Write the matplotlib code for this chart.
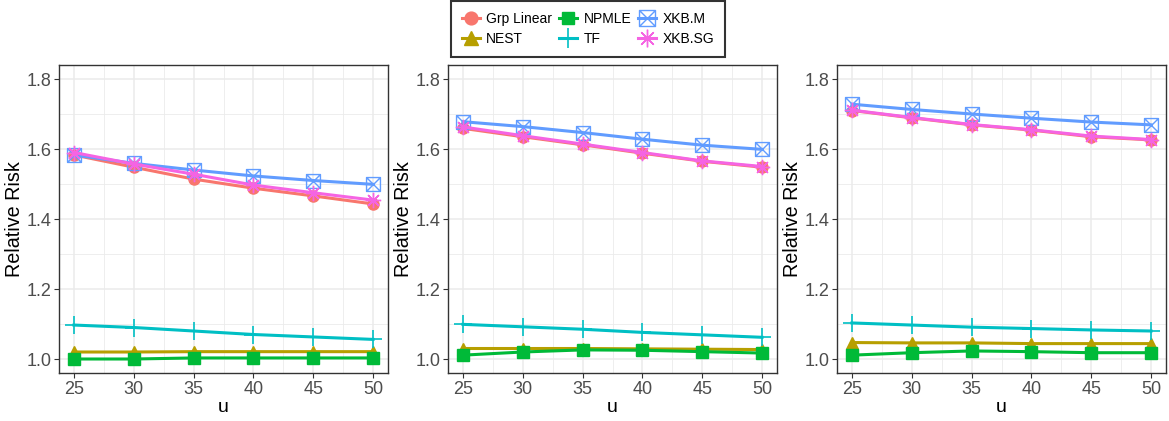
import numpy as np
import matplotlib.pyplot as plt
from matplotlib.path import Path
from matplotlib.ticker import MultipleLocator

plt.rcParams['font.family'] = ['Liberation Sans', 'DejaVu Sans']

u = [25, 30, 35, 40, 45, 50]
methods = ['Grp Linear', 'NEST', 'NPMLE', 'TF', 'XKB.M', 'XKB.SG']
colors = ['#F8766D', '#B79F00', '#00BA38', '#00BFC4', '#619CFF', '#F564E3']

# one dict per panel: method -> relative risk at each u
panel1 = {
    'Grp Linear': [1.583, 1.548, 1.514, 1.488, 1.466, 1.443],
    'NEST':       [1.020, 1.020, 1.021, 1.021, 1.021, 1.021],
    'NPMLE':      [1.000, 1.000, 1.003, 1.003, 1.003, 1.003],
    'TF':         [1.097, 1.090, 1.080, 1.070, 1.063, 1.056],
    'XKB.M':      [1.583, 1.559, 1.540, 1.523, 1.510, 1.499],
    'XKB.SG':     [1.590, 1.557, 1.528, 1.497, 1.475, 1.454],
}
panel2 = {
    'Grp Linear': [1.659, 1.635, 1.612, 1.588, 1.565, 1.548],
    'NEST':       [1.030, 1.030, 1.030, 1.029, 1.028, 1.027],
    'NPMLE':      [1.011, 1.020, 1.026, 1.025, 1.021, 1.017],
    'TF':         [1.099, 1.092, 1.085, 1.076, 1.069, 1.062],
    'XKB.M':      [1.678, 1.664, 1.647, 1.628, 1.611, 1.599],
    'XKB.SG':     [1.663, 1.638, 1.614, 1.590, 1.566, 1.550],
}
panel3 = {
    'Grp Linear': [1.710, 1.689, 1.669, 1.654, 1.635, 1.626],
    'NEST':       [1.047, 1.046, 1.046, 1.044, 1.044, 1.044],
    'NPMLE':      [1.011, 1.018, 1.023, 1.021, 1.018, 1.018],
    'TF':         [1.103, 1.097, 1.091, 1.087, 1.083, 1.080],
    'XKB.M':      [1.728, 1.713, 1.700, 1.688, 1.677, 1.669],
    'XKB.SG':     [1.711, 1.690, 1.670, 1.655, 1.637, 1.627],
}
panels = [panel1, panel2, panel3]

# boxed cross marker (ggplot shape 7)
boxx = Path(
    [(-1, -1), (1, -1), (1, 1), (-1, 1), (-1, -1), (-1, -1), (1, 1), (-1, 1), (1, -1)],
    [Path.MOVETO, Path.LINETO, Path.LINETO, Path.LINETO, Path.CLOSEPOLY,
     Path.MOVETO, Path.LINETO, Path.MOVETO, Path.LINETO])

styles = {
    'Grp Linear': dict(marker='o', ms=8),
    'NEST':       dict(marker='^', ms=9),
    'NPMLE':      dict(marker='s', ms=8),
    'TF':         dict(marker='+', ms=13, mew=1.2),
    'XKB.M':      dict(marker=boxx, ms=10, mfc='none', mew=1.0),
    'XKB.SG':     dict(marker=(8, 2, 0), ms=11, mew=1.0),
}

fig = plt.figure(figsize=(11.69, 4.21), dpi=100)
lefts = [59 / 1169, 448 / 1169, 837 / 1169]
handles = []
for k, (left, data) in enumerate(zip(lefts, panels)):
    ax = fig.add_axes([left, 48 / 421, 329 / 1169, 308 / 421])
    for m, c in zip(methods, colors):
        ln, = ax.plot(u, data[m], color=c, lw=2.2, **styles[m], label=m)
        if k == 0:
            handles.append(ln)
    ax.set_xlim(23.75, 51.25)
    ax.set_ylim(0.96, 1.84)
    ax.set_xticks(u)
    ax.set_yticks([1.0, 1.2, 1.4, 1.6, 1.8])
    ax.set_yticklabels(['1.0', '1.2', '1.4', '1.6', '1.8'])
    ax.xaxis.set_minor_locator(MultipleLocator(2.5))
    ax.yaxis.set_minor_locator(MultipleLocator(0.1))
    ax.grid(which='major', color='#EBEBEB', lw=1.1)
    ax.grid(which='minor', color='#EBEBEB', lw=0.6)
    ax.set_axisbelow(True)
    for s in ax.spines.values():
        s.set_color('#333333')
        s.set_linewidth(1.0)
    ax.tick_params(which='major', length=3.5, width=0.8, color='#333333',
                   labelsize=13, labelcolor='#4D4D4D', pad=2)
    ax.tick_params(which='minor', length=0)
    ax.set_xlabel('u', fontsize=14)
    ax.set_ylabel('Relative Risk', fontsize=14.2)
    ax.xaxis.set_label_coords(0.5, -0.083)
    ax.yaxis.set_label_coords(-0.105, 0.5)

leg = fig.legend(handles=handles, loc='center', bbox_to_anchor=(588 / 1169, 1 - 29 / 421),
                 ncol=3, frameon=True, fancybox=False, fontsize=10, markerscale=1.15,
                 handlelength=1.3, columnspacing=0.5, handletextpad=0.45,
                 labelspacing=0.45, borderpad=0.75, borderaxespad=0)
leg.get_frame().set_edgecolor('black')
leg.get_frame().set_linewidth(1.5)

fig.savefig('out.png', dpi=100)
